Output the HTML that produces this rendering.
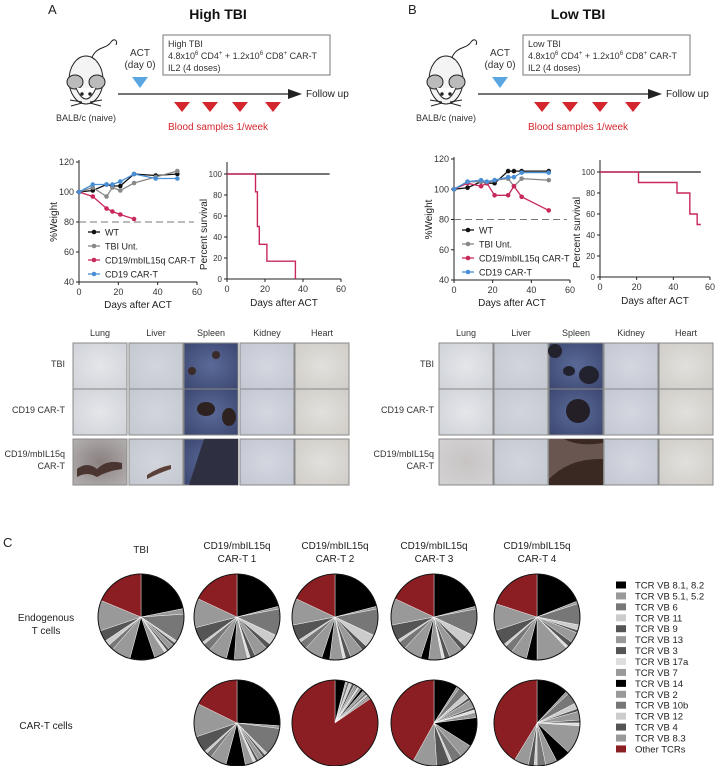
<!DOCTYPE html>
<html><head><meta charset="utf-8"><style>
body{margin:0;background:#fff}
svg{display:block;font-family:"Liberation Sans",sans-serif}
</style></head><body>
<svg id="fig" width="720" height="766" viewBox="0 0 720 766" xmlns="http://www.w3.org/2000/svg">
<defs>
<radialGradient id="gLung" cx="50%" cy="50%" r="70%"><stop offset="0" stop-color="#e4e6ea"/><stop offset="1" stop-color="#cfd2d8"/></radialGradient>
<radialGradient id="gLiver" cx="50%" cy="50%" r="70%"><stop offset="0" stop-color="#d2d5dc"/><stop offset="1" stop-color="#c4c8d0"/></radialGradient>
<radialGradient id="gSpleen" cx="50%" cy="50%" r="70%"><stop offset="0" stop-color="#5a6a98"/><stop offset="1" stop-color="#3c4770"/></radialGradient>
<radialGradient id="gKid" cx="50%" cy="50%" r="70%"><stop offset="0" stop-color="#d4d7df"/><stop offset="1" stop-color="#c3c7d2"/></radialGradient>
<radialGradient id="gHeart" cx="50%" cy="50%" r="70%"><stop offset="0" stop-color="#e2e0dc"/><stop offset="1" stop-color="#d0cdc8"/></radialGradient>
<radialGradient id="gDark" cx="50%" cy="50%" r="70%"><stop offset="0" stop-color="#8a8080"/><stop offset="1" stop-color="#b4b0b0"/></radialGradient>
<radialGradient id="gLungB" cx="50%" cy="50%" r="70%"><stop offset="0" stop-color="#c8c4c4"/><stop offset="1" stop-color="#d4d2d4"/></radialGradient>
</defs>
<g id="root"></g>
</svg>
<script>
// ---------- data ----------
const daysA = [0,7,14,17,21,28,39,50];
const wtA = [100,101,105,104,104,112,111,112];
const tbiA = [100,103,97,103,101,106,110,114];
const carqDaysA = [0,7,14,17,21,28];
const carqA = [100,97,89,87,85,82];
const cd19A = [100,105,105,105,107,112,109,109];
const survDaysA = [0,15,16,17,21,36];
const survA = [100,83,50,33,17,0];

const daysB = [0,7,14,17,21,28,31,35,49];
const wtB = [100,101,105,104,104,112,112,112,112];
const tbiB = [100,105,105,104,106,107,102,107,106];
const carqB = [100,104,102,104,96,96,102,95,86];
const cd19B = [100,105,106,105,106,108,108,111,111];
const survDaysB = [0,21,42,49,53,55];
const survB = [100,90,80,60,50,50];

const weightTicks = [40,60,80,100,120];
const dayTicks = [0,20,40,60];
const survTicks = [0,20,40,60,80,100];

const tcrLabels = ["TCR VB 8.1, 8.2","TCR VB 5.1, 5.2","TCR VB 6","TCR VB 11","TCR VB 9","TCR VB 13","TCR VB 3","TCR VB 17a","TCR VB 7","TCR VB 14","TCR VB 2","TCR VB 10b","TCR VB 12","TCR VB 4","TCR VB 8.3","Other TCRs"];
const tcrColors = ["#000","#999","#777","#ccc","#555","#999","#555","#ddd","#999","#000","#999","#777","#ccc","#555","#999","#8b1e22"];
const endoTBI = [21,2,10,1,1,2,1,1,4,9,7,2,2,4,11,18];
const endo1 = [21,1,10,4,2,5,2,1,5,3,7,3,1,6,11,18];
const endo2 = [21,1,10,5,2,5,2,1,5,3,7,3,1,6,10,18];
const endo3 = [21,1,10,5,2,5,2,1,5,3,7,3,1,6,10,18];
const endo4 = [19,1,8,2,1,4,2,1,12,4,6,3,1,6,10,20];
const car1 = [25,1,10,1,1,2,1,1,3,7,6,2,1,6,12,17];
const car2 = [4,0.5,1,1,1,1,0.5,0.5,1,1,1,1,0.5,0.5,1,85];
const car3 = [9,1,3,2,1,3,1,1,2,11,5,4,1,5,9,42];
const car4 = [11,1,4,2,1,3,1,1,10,5,4,3,1,2,5,38];

// ---------- helpers ----------
const NS="http://www.w3.org/2000/svg";
const root=document.getElementById('root');
function el(tag,attrs,parent,text){const e=document.createElementNS(NS,tag);for(const k in attrs)e.setAttribute(k,attrs[k]);if(text!==undefined)e.textContent=text;(parent||root).appendChild(e);return e;}
function txt(x,y,s,size,anchor,fill,weight,name){const t=el('text',{x:x,y:y,'font-size':size,'text-anchor':anchor||'start',fill:fill||'#222','font-weight':weight||'normal'},root,s);


return t;}

// ---------- schematic ----------
function schematic(ox,letter,title,lines){
  txt(ox+48,14,letter,13,'start','#222','normal','panel-letter');
  txt(ox+218,19,title,14,'middle','#111','bold','panel-title');
  const box=el('rect',{x:ox+163,y:35,width:167,height:40,fill:'#fff',stroke:'#777','stroke-width':1});
  
  
  txt(ox+168,47,lines[0],9,'start','#333','normal','treatment-line');
  const t2=txt(ox+168,59,'',9,'start','#333','normal','treatment-line');
  t2.innerHTML='4.8x10<tspan font-size="6" dy="-4">6</tspan><tspan dy="4"> CD4</tspan><tspan font-size="6" dy="-4">+</tspan><tspan dy="4"> + 1.2x10</tspan><tspan font-size="6" dy="-4">6</tspan><tspan dy="4"> CD8</tspan><tspan font-size="6" dy="-4">+</tspan><tspan dy="4"> CAR-T</tspan>';
  txt(ox+168,71,'IL2 (4 doses)',9,'start','#333','normal','treatment-line');
  txt(ox+140,56,'ACT',10,'middle','#333','normal','act-label');
  txt(ox+140,68,'(day 0)',10,'middle','#333','normal','act-label');
  const bt=el('polygon',{points:`${ox+132},${77} ${ox+148},${77} ${ox+140},${88}`,fill:'#5aa6e0'});
  
  
  const ln=el('line',{x1:ox+118,y1:94,x2:ox+292,y2:94,stroke:'#222','stroke-width':1.2});
  
  
  el('polygon',{points:`${ox+288},89 ${ox+302},94 ${ox+288},99`,fill:'#222'});
  txt(ox+306,97,'Follow up',10,'start','#222','normal','follow-up-label');
  [182,210,240,273].forEach(x=>{const p=el('polygon',{points:`${ox+x-8},102 ${ox+x+8},102 ${ox+x},112`,fill:'#d3262e'});
  
  });
  txt(ox+168,130,'Blood samples 1/week',10,'start','#d3262e','normal','blood-samples-label');
  const g=el('g',{transform:`translate(${ox+86},${80})`,fill:'none',stroke:'#222','stroke-width':1});
  
  
  el('path',{d:'M5,-20 C10,-35 20,-30 25,-38 C28,-42 32,-40 30,-35'},g);
  el('ellipse',{cx:0,cy:0,rx:17,ry:24,fill:'#f4f4f4'},g);
  el('ellipse',{cx:-11,cy:2,rx:8,ry:7,fill:'#bbb'},g);
  el('ellipse',{cx:11,cy:2,rx:8,ry:7,fill:'#bbb'},g);
  el('path',{d:'M-10,8 Q0,30 10,8',fill:'#fff'},g);
  el('circle',{cx:-4,cy:14,r:1.2,fill:'#222'},g);
  el('circle',{cx:4,cy:14,r:1.2,fill:'#222'},g);
  el('path',{d:'M-4,22 L-16,20 M-4,23 L-15,26 M4,22 L16,20 M4,23 L15,26'},g);
  txt(ox+86,121,'BALB/c (naive)',9,'middle','#333','normal','strain-label');
}
schematic(0,'A','High TBI',['High TBI']);
schematic(360,'B','Low TBI',['Low TBI']);

// ---------- weight chart ----------
function weightChart(x0,x60,y40,y120,series,legendX,legendY){
  const xs=d=>x0+(x60-x0)*d/60, ys=v=>y40+(y120-y40)*(v-40)/80;
  el('line',{x1:x0,y1:ys(120)-2,x2:x0,y2:y40,stroke:'#222'});
  el('line',{x1:x0,y1:y40,x2:x60,y2:y40,stroke:'#222'});
  weightTicks.forEach(v=>{el('line',{x1:x0-3,y1:ys(v),x2:x0,y2:ys(v),stroke:'#222'});txt(x0-5,ys(v)+3,String(v),9,'end','#333','normal','y-tick-label');});
  dayTicks.forEach(d=>{el('line',{x1:xs(d),y1:y40,x2:xs(d),y2:y40+3,stroke:'#222'});txt(xs(d),y40+13,String(d),9,'middle','#333','normal','x-tick-label');});
  txt((x0+x60)/2,y40+26,'Days after ACT',10,'middle','#222','normal','x-axis-title');
  const yt=txt(0,0,'%Weight',10,'middle','#222','normal','y-axis-title');
  yt.setAttribute('transform',`translate(${x0-22},${(y40+y120)/2}) rotate(-90)`);
  const dl=el('line',{x1:x0,y1:ys(80),x2:x60-3,y2:ys(80),stroke:'#777','stroke-dasharray':'7,4'});
  
  
  series.forEach(s=>{
    const pts=s.d.map((d,i)=>xs(d)+','+ys(s.v[i])).join(' ');
    const pl=el('polyline',{points:pts,fill:'none',stroke:s.c,'stroke-width':1.3});
    
    
    s.d.forEach((d,i)=>{const c=el('circle',{cx:xs(d),cy:ys(s.v[i]),r:2.3,fill:s.c});
    
    });
  });
  series.forEach((s,i)=>{const y=legendY+i*14;
    const li=el('line',{x1:legendX,y1:y,x2:legendX+12,y2:y,stroke:s.c,'stroke-width':1.3});
    
    
    el('circle',{cx:legendX+6,cy:y,r:2.3,fill:s.c});
    txt(legendX+17,y+3.5,s.label,9,'start','#222','normal','legend-label');});
}
function survChart(x0,x60,y0,y100,wtEnd,days,vals){
  const xs=d=>x0+(x60-x0)*d/60, ys=v=>y0+(y100-y0)*v/100;
  el('line',{x1:x0,y1:y100-12,x2:x0,y2:y0,stroke:'#222'});
  el('line',{x1:x0,y1:y0,x2:x60,y2:y0,stroke:'#222'});
  survTicks.forEach(v=>{el('line',{x1:x0-3,y1:ys(v),x2:x0,y2:ys(v),stroke:'#222'});txt(x0-5,ys(v)+3,String(v),8,'end','#333','normal','y-tick-label');});
  dayTicks.forEach(d=>{el('line',{x1:xs(d),y1:y0,x2:xs(d),y2:y0+3,stroke:'#222'});txt(xs(d),y0+13,String(d),9,'middle','#333','normal','x-tick-label');});
  txt((x0+x60)/2,y0+27,'Days after ACT',10,'middle','#222','normal','x-axis-title');
  const yt=txt(0,0,'Percent survival',10,'middle','#222','normal','y-axis-title');
  yt.setAttribute('transform',`translate(${x0-20},${(y0+y100)/2+8}) rotate(-90)`);
  const w=el('line',{x1:x0,y1:ys(100),x2:xs(wtEnd),y2:ys(100),stroke:'#222','stroke-width':1.2});
  
  
  let d='M'+xs(days[0])+','+ys(vals[0]);
  for(let i=1;i<days.length;i++){d+=' H'+xs(days[i])+' V'+ys(vals[i]);}
  const p=el('path',{d:d,fill:'none',stroke:'#c8285a','stroke-width':1.4});
  
  
}
const RED='#c8285a',BLUE='#4a8fd6',GREY='#888';
weightChart(79,197,282,162,[
 {n:'wt',label:'WT',c:'#111',d:daysA,v:wtA},
 {n:'tbi-unt',label:'TBI Unt.',c:GREY,d:daysA,v:tbiA},
 {n:'cd19-mbil15q',label:'CD19/mbIL15q CAR-T',c:RED,d:carqDaysA,v:carqA},
 {n:'cd19',label:'CD19 CAR-T',c:BLUE,d:daysA,v:cd19A}],88,232);
survChart(227,341,279,174,54,survDaysA,survA);
weightChart(454,570,280,159,[
 {n:'wt',label:'WT',c:'#111',d:daysB,v:wtB},
 {n:'tbi-unt',label:'TBI Unt.',c:GREY,d:daysB,v:tbiB},
 {n:'cd19-mbil15q',label:'CD19/mbIL15q CAR-T',c:RED,d:daysB,v:carqB},
 {n:'cd19',label:'CD19 CAR-T',c:BLUE,d:daysB,v:cd19B}],462,230);
survChart(600,710,277,172,55,survDaysB,survB);

// ---------- histology ----------
function histo(ox,labelX,cx,variant){
  const cols=['Lung','Liver','Spleen','Kidney','Heart'];
  const rows=['TBI','CD19 CAR-T','CD19/mbIL15q\nCAR-T'];
  const ry=[343,389,439];
  const fills=[['gLung','gLiver','gSpleen','gKid','gHeart'],['gLung','gLiver','gSpleen','gKid','gHeart'],[variant==='A'?'gDark':'gLungB','gLiver','gSpleen','gKid','gHeart']];
  cols.forEach((c,i)=>txt(ox+cx[i]+27,336,c,9,'middle','#333','normal','organ-label'));
  rows.forEach((r,j)=>{
    const parts=r.split('\n');
    parts.forEach((p,k)=>txt(ox+labelX,ry[j]+24+(k-(parts.length-1)/2)*12,p,9,'end','#333','normal','row-label'));
    cx.forEach((x,i)=>{
      const rc=el('rect',{x:ox+x,y:ry[j],width:54,height:46,fill:`url(#${fills[j][i]})`,stroke:'#888','stroke-width':1});
      
      
      const X=ox+x,Y=ry[j];
      if(i===2){
        if(variant==='A'){
          if(j===0){el('circle',{cx:X+32,cy:Y+12,r:4,fill:'#3a2a28'});el('circle',{cx:X+8,cy:Y+28,r:4,fill:'#3a2a28'});}
          if(j===1){el('ellipse',{cx:X+22,cy:Y+20,rx:9,ry:7,fill:'#2e2220'});el('ellipse',{cx:X+45,cy:Y+28,rx:7,ry:9,fill:'#2e2220'});}
          if(j===2){el('path',{d:`M${X+20},${Y} L${X+54},${Y} L${X+54},${Y+46} L${X+5},${Y+46} Z`,fill:'#2e2f40'});}
        } else {
          if(j===0){el('ellipse',{cx:X+6,cy:Y+8,rx:7,ry:7,fill:'#22222e'});el('ellipse',{cx:X+20,cy:Y+28,rx:6,ry:5,fill:'#22222e'});el('ellipse',{cx:X+40,cy:Y+32,rx:10,ry:9,fill:'#22222e'});}
          if(j===1){el('ellipse',{cx:X+29,cy:Y+22,rx:12,ry:12,fill:'#241f26'});}
          if(j===2){el('rect',{x:X,y:Y,width:54,height:46,fill:'#6a5650'});el('path',{d:`M${X},${Y+40} q20,-20 50,-20 l4,0 l0,26 l-54,0z`,fill:'#3a2822'});el('path',{d:`M${X+15},${Y} q15,8 39,4 l0,-4z`,fill:'#3a2822'});}
        }
      }
      if(variant==='A'&&j===2&&i===0){el('path',{d:`M${X+4},${Y+30} q10,-8 20,0 q10,-10 25,-6 l0,6 q-15,2 -25,8 q-10,-6 -20,0z`,fill:'#4a3530'});}
      if(variant==='A'&&j===2&&i===1){el('path',{d:`M${X+18},${Y+36} q12,-8 24,-10 l0,4 q-12,4 -24,10z`,fill:'#5a4038'});}
    });
  });
}
histo(0,65,[73,129,184,240,295],'A');
histo(0,434,[439,494,549,604,659],'B');

// ---------- panel C ----------
txt(3,547,'C',13,'start','#222','normal','panel-letter');
const pieCX=[141,237,335,434,537];
const titles=[['TBI'],['CD19/mbIL15q','CAR-T 1'],['CD19/mbIL15q','CAR-T 2'],['CD19/mbIL15q','CAR-T 3'],['CD19/mbIL15q','CAR-T 4']];
titles.forEach((t,i)=>t.forEach((s,k)=>txt(pieCX[i],(t.length===1?553:549+k*13),s,10,'middle','#222','normal','column-title')));
txt(46,621,'Endogenous',10,'middle','#222','normal','row-label');
txt(46,634,'T cells',10,'middle','#222','normal','row-label');
txt(46,729,'CAR-T cells',10,'middle','#222','normal','row-label');
function pie(cx,cy,r,vals,name){
  const tot=vals.reduce((a,b)=>a+b,0);let a=0;
  const g=el('g',{});
  
  
  vals.forEach((v,i)=>{
    const a1=a+v/tot*2*Math.PI;
    const x1=cx+r*Math.sin(a),y1=cy-r*Math.cos(a),x2=cx+r*Math.sin(a1),y2=cy-r*Math.cos(a1);
    const large=(a1-a)>Math.PI?1:0;
    const p=el('path',{d:`M${cx},${cy} L${x1},${y1} A${r},${r} 0 ${large} 1 ${x2},${y2} Z`,fill:tcrColors[i],stroke:'#fff','stroke-width':0.4},g);
    
    
    a=a1;});
  el('circle',{cx:cx,cy:cy,r:r,fill:'none',stroke:'#111','stroke-width':1},g);
}
const endoData=[endoTBI,endo1,endo2,endo3,endo4];
endoData.forEach((d,i)=>pie(pieCX[i],617,43,d,'endogenous-pie'));
const carData=[car1,car2,car3,car4];
carData.forEach((d,i)=>pie(pieCX[i+1],723,43,d,'car-t-pie'));
tcrLabels.forEach((l,i)=>{const y=585+i*10.93;
  const r=el('rect',{x:616,y:y-3.5,width:10,height:7,fill:tcrColors[i]});
  
  
  txt(635,y+3.5,l,9.5,'start','#222','normal','legend-label');});
</script>
</body></html>
